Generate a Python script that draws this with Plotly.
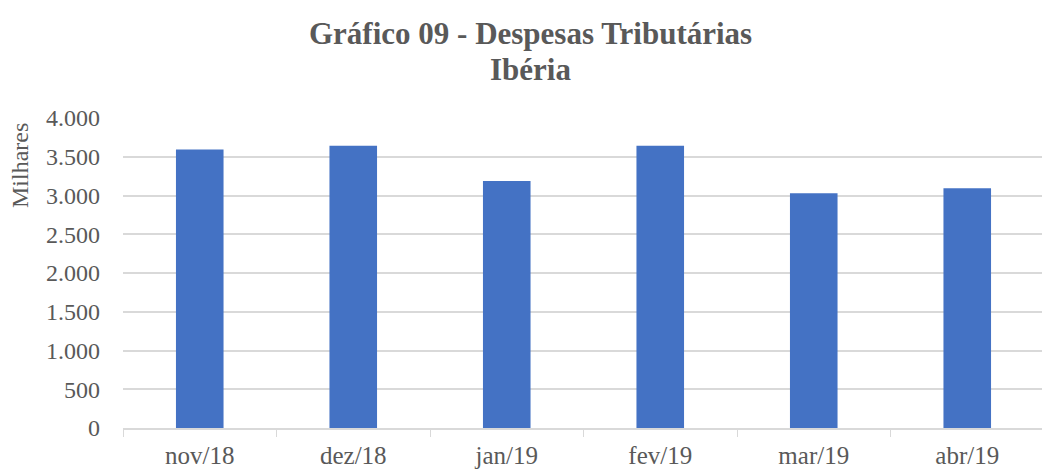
import plotly.graph_objects as go

categories = ["nov/18", "dez/18", "jan/19", "fev/19", "mar/19", "abr/19"]
values = [3595, 3643, 3186, 3643, 3030, 3095]
y_ticks = [0, 500, 1000, 1500, 2000, 2500, 3000, 3500, 4000]

font_family = "Liberation Serif, DejaVu Serif, serif"
grey = "#595959"

# page body has an 8px default margin, so the figure is sized to fit the window
fig = go.Figure(go.Bar(x=categories, y=values, marker=dict(color="#4472C4", line=dict(width=0))))

fig.update_layout(
    width=1042, height=461,
    margin=dict(l=115, r=6, t=110, b=41, autoexpand=False),
    paper_bgcolor="white", plot_bgcolor="white",
    separators=",.",
    bargap=0.69,
    showlegend=False,
    font=dict(family=font_family, color=grey),
)
fig.add_annotation(
    text="<b>Gráfico 09 - Despesas Tributárias</b>", xref="paper", yref="paper",
    x=0.442, y=1 + (118 - 33) / 310, xanchor="center", yanchor="middle",
    showarrow=False, font=dict(family=font_family, size=31, color=grey),
)
fig.add_annotation(
    text="<b>Ibéria</b>", xref="paper", yref="paper",
    x=0.442, y=1 + (118 - 69) / 310, xanchor="center", yanchor="middle",
    showarrow=False, font=dict(family=font_family, size=31, color=grey),
)
fig.add_annotation(
    text="Milhares", xref="paper", yref="paper",
    x=-(123 - 20) / 921, y=1 - (166 - 118) / 310, xanchor="center", yanchor="middle",
    textangle=-90, showarrow=False, font=dict(family=font_family, size=24, color=grey),
)
fig.update_xaxes(
    showline=True, linecolor="#d9d9d9", linewidth=1.5,
    ticks="outside", tickson="boundaries", ticklen=7, tickcolor="#d9d9d9",
    tickfont=dict(size=25, color=grey), showgrid=False, automargin=False,
    ticklabelstandoff=4,
)
fig.update_yaxes(
    range=[0, 4000], tickvals=y_ticks, tickformat=",d",
    showgrid=True, gridcolor="#d9d9d9", gridwidth=1.5,
    zeroline=False, showline=False, automargin=False,
    tickfont=dict(size=24, color=grey), ticks="", ticklabelstandoff=22,
)

fig.write_html("out.html")
